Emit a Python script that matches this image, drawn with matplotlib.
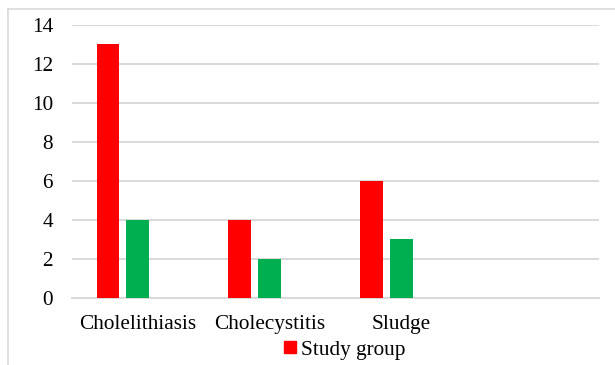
import matplotlib
matplotlib.use("Agg")
import matplotlib.pyplot as plt
from matplotlib.lines import Line2D
from matplotlib.patches import Patch
import numpy as np

categories = ["Cholelithiasis", "Cholecystitis", "Sludge", ""]
study_group = [13, 4, 6, 0]
control_group = [4, 2, 3, 0]
y_ticks = [0, 2, 4, 6, 8, 10, 12, 14]

red = "#ff0000"
green = "#00b050"
grid_gray = "#d9d9d9"

plt.rcParams["font.family"] = ["Liberation Serif", "DejaVu Serif"]

W, H = 615, 365
fig = plt.figure(figsize=(W / 100, H / 100), dpi=100)
ax = fig.add_axes([72 / W, (H - 298) / H, (599 - 72) / W, (298 - 24.5) / H])

x = np.arange(len(categories))
width = 0.174
offset = 0.227
ax.bar(x - offset, study_group, width, color=red, label="Study group", zorder=3)
ax.bar(x, control_group, width, color=green, zorder=3)

ax.set_xlim(-0.5, len(categories) - 0.5)
ax.set_ylim(0, 14)
ax.set_yticks(y_ticks)
ax.set_xticks(x)
ax.set_xticklabels(categories)
ax.tick_params(axis="both", length=0, labelsize=15.3, colors="black")
ax.tick_params(axis="y", pad=13.7)
ax.tick_params(axis="x", pad=12)
ax.yaxis.grid(True, color=grid_gray, linewidth=1.4, zorder=0)
for side in ["top", "right", "left"]:
    ax.spines[side].set_visible(False)
ax.spines["bottom"].set_color(grid_gray)
ax.spines["bottom"].set_linewidth(1.4)

# Legend below the category labels
handles = [Patch(facecolor=red, edgecolor=red)]
fig.legend(handles, ["Study group"], loc="center", bbox_to_anchor=(345 / W, (H - 350) / H),
           frameon=False, fontsize=15.3, handlelength=0.55, handleheight=0.55,
           handletextpad=0.25, borderaxespad=0, borderpad=0)

# Chart area outline (left and top edges)
fig.add_artist(Line2D([8 / W, 8 / W], [0, (H - 9) / H], transform=fig.transFigure,
                      color=grid_gray, linewidth=1.2))
fig.add_artist(Line2D([8 / W, 1], [(H - 9) / H, (H - 9) / H], transform=fig.transFigure,
                      color=grid_gray, linewidth=1.2))

fig.savefig("out.png", dpi=100, facecolor="white")
